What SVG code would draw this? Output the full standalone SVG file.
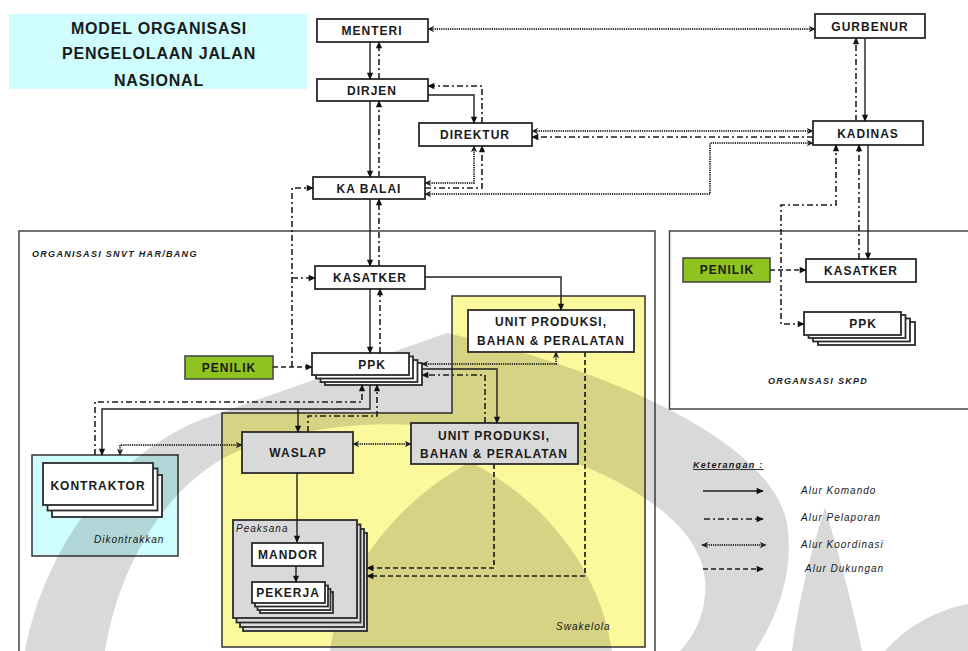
<svg xmlns="http://www.w3.org/2000/svg" width="968" height="651" viewBox="0 0 968 651">
<style>
.bx{fill:#fff;stroke:#2b2b2b;stroke-width:1.8}
.gy{fill:#d9d9d9;stroke:#2b2b2b;stroke-width:1.8}
.gr{fill:#8fc31f;stroke:#4a4a4a;stroke-width:1.6}
.t{font-family:"Liberation Sans",Arial,sans-serif;font-weight:bold;font-size:12px;letter-spacing:1px;fill:#1a1a1a;text-anchor:middle}
.ti{font-family:"Liberation Sans",Arial,sans-serif;font-weight:bold;font-size:16px;letter-spacing:0.8px;fill:#1a1a1a;text-anchor:middle}
.it{font-family:"Liberation Sans",Arial,sans-serif;font-style:italic;font-size:10px;letter-spacing:1px;fill:#1a1a1a}
.itb{font-family:"Liberation Sans",Arial,sans-serif;font-style:italic;font-weight:bold;font-size:9px;letter-spacing:1.3px;fill:#1a1a1a}
.s{fill:none;stroke:#1e1e1e;stroke-width:1.4}
.dd{fill:none;stroke:#1e1e1e;stroke-width:1.6;stroke-dasharray:6 3 2 3}
.dt{fill:none;stroke:#333;stroke-width:2;stroke-dasharray:1.2 1}
.ds{fill:none;stroke:#1e1e1e;stroke-width:1.7;stroke-dasharray:5 3}
.wm{fill:#000;fill-opacity:0.15}
</style>
<defs>
<marker id="a" viewBox="0 0 10 10" refX="9" refY="5" markerWidth="8" markerHeight="7" markerUnits="userSpaceOnUse" orient="auto-start-reverse"><path d="M0,0.5 L10,5 L0,9.5 Z" fill="#111"/></marker>
<marker id="c" viewBox="0 0 10 10" refX="9" refY="5" markerWidth="8" markerHeight="7" markerUnits="userSpaceOnUse" orient="auto-start-reverse"><path d="M0,0.5 L10,5 L0,9.5 L3,5 Z" fill="#222"/></marker>
</defs>
<rect width="968" height="651" fill="#fff"/>

<g id="title">
<rect x="9" y="14" width="298" height="75" fill="#cffcfd"/>
<text class="ti" x="159" y="34">MODEL ORGANISASI</text>
<text class="ti" x="159" y="59">PENGELOLAAN JALAN</text>
<text class="ti" x="159" y="86">NASIONAL</text>
</g>
<g id="snvt-frame">
<rect x="19" y="231" width="636" height="425" fill="none" stroke="#444" stroke-width="1.5"/>
<text class="itb" x="32" y="257">ORGANISASI SNVT HAR/BANG</text>
</g>
<g id="skpd-frame">
<rect x="669.5" y="231" width="310" height="178" fill="none" stroke="#444" stroke-width="1.5"/>
<text class="itb" x="818" y="384" text-anchor="middle" letter-spacing="1.8">ORGANSASI SKPD</text>
</g>
<g id="swakelola">
<path d="M452,296 H645 V647 H222 V413 H452 Z" fill="#fcf99c" stroke="#333" stroke-width="1.5"/>
<text class="it" x="556" y="630" font-size="9">Swakelola</text>
</g>
<g id="dikontrakkan">
<rect x="32" y="455" width="146" height="101" fill="#cffcfd" stroke="#333" stroke-width="1.5"/>
<text class="it" x="94" y="543">Dikontrakkan</text>
</g>

<g id="watermark">
<path class="wm" fill-rule="evenodd" d="M25,651 C45,545 115,455 200,420 L447,333 C610,370 770,440 787,523 C795,575 775,620 755,651 Z M105,651 C120,560 170,480 240,450 C330,418 420,418 500,438 C620,470 700,520 705,580 C707,612 695,635 680,651 Z"/>
<path class="wm" d="M330,651 C340,570 400,500 470,462 C545,500 600,570 612,651 Z"/>
<path class="wm" d="M792,651 C800,590 815,540 825,507 C836,545 852,600 862,651 Z"/>
<path class="wm" d="M885,651 C905,628 935,610 968,604 V651 Z"/>
</g>

<!-- Nodes -->
<g id="menteri"><rect class="bx" x="317" y="19" width="111" height="23"/><text class="t" x="372" y="35">MENTERI</text></g>
<g id="dirjen"><rect class="bx" x="317" y="79" width="111" height="22"/><text class="t" x="372" y="95">DIRJEN</text></g>
<g id="direktur"><rect class="bx" x="419" y="123" width="113" height="23"/><text class="t" x="475" y="139">DIREKTUR</text></g>
<g id="kabalai"><rect class="bx" x="313" y="177" width="112" height="22"/><text class="t" x="369" y="193">KA BALAI</text></g>
<g id="gurbenur"><rect class="bx" x="815" y="14" width="110" height="24"/><text class="t" x="870" y="31">GURBENUR</text></g>
<g id="kadinas"><rect class="bx" x="813" y="121" width="110" height="24"/><text class="t" x="868" y="138">KADINAS</text></g>
<g id="kasatker-snvt"><rect class="bx" x="315" y="266" width="110" height="23"/><text class="t" x="370" y="282">KASATKER</text></g>
<g id="penilik-snvt"><rect class="gr" x="185" y="356" width="88" height="23"/><text class="t" x="229" y="372">PENILIK</text></g>
<g id="ppk-snvt">
<rect class="bx" x="325" y="363" width="97" height="22"/>
<rect class="bx" x="320.5" y="360" width="97" height="22"/>
<rect class="bx" x="316" y="356.5" width="97" height="22"/>
<rect class="bx" x="312" y="353" width="97" height="22"/>
<text class="t" x="372" y="369">PPK</text>
</g>
<g id="unit-atas"><rect class="bx" x="468" y="310" width="166" height="42"/><text class="t" x="551" y="326">UNIT PRODUKSI,</text><text class="t" x="551" y="345">BAHAN &amp; PERALATAN</text></g>
<g id="unit-bawah"><rect class="gy" x="411" y="423" width="167" height="41"/><text class="t" x="494" y="440">UNIT PRODUKSI,</text><text class="t" x="494" y="458">BAHAN &amp; PERALATAN</text></g>
<g id="waslap"><rect class="gy" x="242" y="432" width="111" height="41"/><text class="t" x="298" y="457">WASLAP</text></g>
<g id="kontraktor">
<rect class="bx" x="52" y="475" width="110" height="42"/>
<rect class="bx" x="47.5" y="468.5" width="110" height="42"/>
<rect class="bx" x="43" y="463" width="110" height="42"/>
<text class="t" x="98" y="490" font-size="14">KONTRAKTOR</text>
</g>
<g id="pelaksana">
<rect class="gy" x="243" y="533" width="124" height="98"/>
<rect class="gy" x="240" y="529" width="124" height="98"/>
<rect class="gy" x="236.5" y="524.5" width="124" height="98"/>
<rect class="gy" x="233" y="520" width="124" height="98"/>
<text class="it" x="236" y="532" font-size="9" font-style="normal" letter-spacing="0.7">Peaksana</text>
</g>
<g id="mandor"><rect class="bx" x="252" y="543" width="71" height="23"/><text class="t" x="288" y="559">MANDOR</text></g>
<g id="pekerja">
<rect class="bx" x="260" y="592" width="73" height="21"/>
<rect class="bx" x="257.5" y="589" width="73" height="21"/>
<rect class="bx" x="255" y="585.5" width="73" height="21"/>
<rect class="bx" x="252" y="582" width="73" height="21"/>
<text class="t" x="288" y="597">PEKERJA</text>
</g>
<g id="penilik-skpd"><rect class="gr" x="683" y="258" width="87" height="24"/><text class="t" x="727" y="274">PENILIK</text></g>
<g id="kasatker-skpd"><rect class="bx" x="806" y="259" width="110" height="23"/><text class="t" x="861" y="275">KASATKER</text></g>
<g id="ppk-skpd">
<rect class="bx" x="818" y="322" width="97" height="23"/>
<rect class="bx" x="813" y="318.5" width="97" height="23"/>
<rect class="bx" x="808.5" y="315" width="97" height="23"/>
<rect class="bx" x="804" y="312" width="97" height="23"/>
<text class="t" x="863" y="328">PPK</text>
</g>

<!-- Connectors -->
<g id="connectors">
<path class="s" d="M370,42 V79" marker-end="url(#a)"/>
<path class="dd" d="M379,79 V42" marker-end="url(#a)"/>
<path class="s" d="M370,101 V177" marker-end="url(#a)"/>
<path class="dd" d="M379,177 V101" marker-end="url(#a)"/>
<path class="s" d="M370,199 V266" marker-end="url(#a)"/>
<path class="dd" d="M379,266 V199" marker-end="url(#a)"/>
<path class="s" d="M370,289 V353" marker-end="url(#a)"/>
<path class="dd" d="M380,353 V289" marker-end="url(#a)"/>
<path class="s" d="M428,95 H474 V123" marker-end="url(#a)"/>
<path class="dd" d="M482,123 V86 H428" marker-end="url(#a)"/>
<path class="dt" d="M425,183 H474 V146" marker-start="url(#c)" marker-end="url(#c)"/>
<path class="dd" d="M425,188 H482 V146" marker-end="url(#a)"/>
<path class="dt" d="M425,194 H710 V143 H813" marker-start="url(#c)" marker-end="url(#c)"/>
<path class="dt" d="M532,131 H813" marker-start="url(#c)" marker-end="url(#c)"/>
<path class="dd" d="M813,137 H532" marker-end="url(#a)"/>
<path class="dt" d="M428,29 H815" marker-start="url(#c)" marker-end="url(#c)"/>
<path class="s" d="M865,38 V121" marker-end="url(#a)"/>
<path class="dd" d="M856,121 V38" marker-end="url(#a)"/>
<path class="s" d="M868,145 V259" marker-end="url(#a)"/>
<path class="dd" d="M859,259 V145" marker-end="url(#a)"/>
<path class="dd" d="M804,324 H781 V205 H836 V145" marker-start="url(#a)" marker-end="url(#a)"/>
<path class="ds" d="M770,270 H806" marker-end="url(#a)"/>
<path class="ds" d="M273,367 H312" marker-end="url(#a)"/>
<path class="dd" d="M292,367 V188 H313" marker-end="url(#a)"/>
<path class="dd" d="M292,278 H315" marker-end="url(#a)"/>
<path class="s" d="M425,277 H561 V310" marker-end="url(#a)"/>
<path class="dt" d="M556,352 V364 H422" marker-start="url(#c)" marker-end="url(#c)"/>
<path class="s" d="M422,369 H497 V423" marker-end="url(#a)"/>
<path class="dd" d="M485,423 V375 H422" marker-end="url(#a)"/>
<path class="s" d="M370,385 V409 H102 V455" marker-end="url(#a)"/>
<path class="s" d="M298,409 V432" marker-end="url(#a)"/>
<path class="dd" d="M95,455 V402 H362 V385" marker-end="url(#a)"/>
<path class="dd" d="M308,432 V416 H377 V385" marker-end="url(#a)"/>
<path class="dt" d="M120,455 V445 H242" marker-start="url(#c)" marker-end="url(#c)"/>
<path class="dt" d="M353,444 H411" marker-start="url(#c)" marker-end="url(#c)"/>
<path class="s" d="M297,473 V542" marker-end="url(#a)"/>
<path class="s" d="M296,566 V582" marker-end="url(#a)"/>
<path class="ds" d="M494,464 V568 H367" marker-end="url(#a)"/>
<path class="ds" d="M585,352 V576 H367" marker-end="url(#a)"/>
</g>

<g id="legend">
<text class="itb" x="693" y="468" font-style="normal" font-size="9" letter-spacing="0.6" text-decoration="underline">Keterangan :</text>
<path class="s" d="M703,491 H763" marker-end="url(#a)"/>
<path class="dd" d="M704,519 H763" marker-end="url(#a)"/>
<path class="dt" d="M702,545 H766" marker-start="url(#c)" marker-end="url(#c)"/>
<path class="ds" d="M703,569 H763" marker-end="url(#a)"/>
<text class="it" x="801" y="494">Alur Komando</text>
<text class="it" x="801" y="521">Alur Pelaporan</text>
<text class="it" x="801" y="548">Alur Koordinasi</text>
<text class="it" x="805" y="572">Alur Dukungan</text>
</g>
</svg>
